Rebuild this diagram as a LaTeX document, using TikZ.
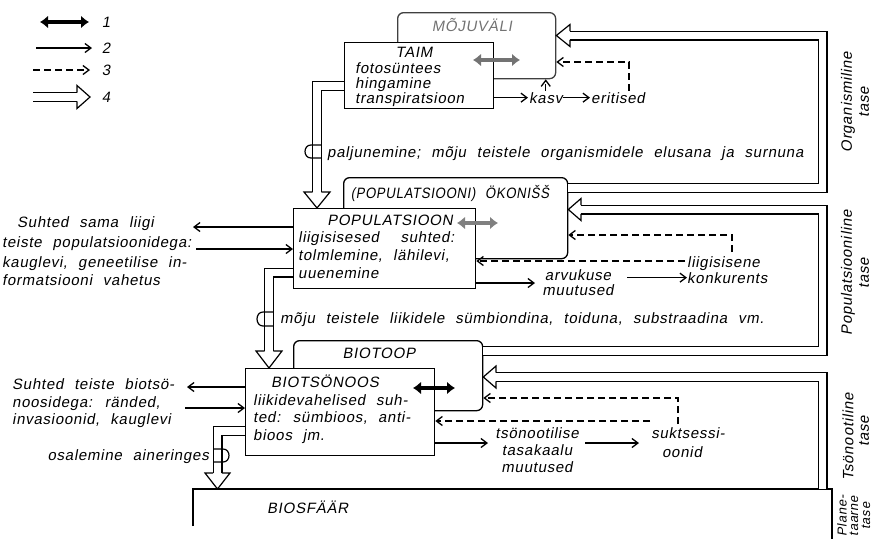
\documentclass[tikz,border=0pt]{standalone}
\usepackage{fontspec}
\setmainfont{Liberation Sans}[FakeSlant=0.18, WordSpace=2.2, LetterSpace=5]
\usetikzlibrary{arrows.meta,calc}
\newcommand\lab{\fontsize{15}{18}\selectfont}
\newcommand\sml{\fontsize{13}{15}\selectfont}
\begin{document}
\begin{tikzpicture}[x=1pt,y=-1pt,
  txt/.style={inner sep=0pt, font=\lab},
  box/.style={draw, line width=1.3pt, fill=white, inner sep=0pt, anchor=north west},
  env/.style={draw, line width=1.3pt, rounded corners=6pt, inner sep=0pt, anchor=north west},
  arr/.style={line width=1.3pt, -{Straight Barb[length=6pt,width=9pt]}},
  dsh/.style={arr, dash pattern=on 7pt off 4pt},
  fat/.style={line width=4.5pt, {Latex[length=8pt,width=13pt]}-{Latex[length=8pt,width=13pt]}},
  dbl/.style={line width=1.2pt, double, double distance=7.6pt},
  dhead/.style={line width=1.2pt, line join=miter},
  jumper/.style={line width=1.2pt},
]
\useasboundingbox (0,0) rectangle (886,539);

% ---------- legend ----------
\coordinate (l1a) at (40,22);  \coordinate (l1b) at (89,22);
\coordinate (l2a) at (36,48);  \coordinate (l2b) at (92,48);
\coordinate (l3a) at (33,70);  \coordinate (l3b) at (90,70);
\coordinate (l4a) at (33,97);  \coordinate (l4b) at (77,97);
\draw[fat] (l1a) -- (l1b);
\draw[arr] (l2a) -- (l2b);
\draw[dsh] (l3a) -- (l3b);
\draw[dbl] (l4a) -- (l4b);
\draw[dhead] (77,92.6) -- (77,85.5) -- (90,97) -- (77,108.5) -- (77,101.4);
\node[txt] (n1) at (106,22) {1};
\node[txt] (n2) at (106,48) {2};
\node[txt] (n3) at (106,70) {3};
\node[txt] (n4) at (106,97) {4};

% ---------- organism level ----------
\node[env, draw=black!75, minimum width=158pt, minimum height=66pt] (moju) at (397,12) {};
\node[txt, text=black!55, anchor=base] (mojut) at (472,31.5) {MÕJUVÄLI};
\node[box, minimum width=149pt, minimum height=66pt] (taim) at (344,42) {};
\node[txt, anchor=base] (taimt) at (414,57.5) {TAIM};
\node[txt, anchor=base west] (ta1) at (355,73) {fotosüntees};
\node[txt, anchor=base west] (ta2) at (355,88) {hingamine};
\node[txt, anchor=base west] (ta3) at (355,103) {transpiratsioon};
\draw[fat, black!55] (473,60) -- (520,60);

\node[txt, anchor=base west, inner sep=1pt] (kasv) at (528,103) {kasv};
\node[txt, anchor=base west, inner sep=1pt] (erit) at (590,103) {eritised};
\draw[arr] (taim.east |- kasv.west) -- (kasv.west);
\draw[arr] (kasv.east) -- (erit.west);
\draw[dsh] (kasv.north) -- (kasv.north |- moju.south);
\coordinate (c1) at (629,62);
\draw[dsh] (erit.north -| c1) -- (c1) -- (c1 -| moju.east);

\node[txt, anchor=base west] (palj) at (327,157) {paljunemine; mõju teistele organismidele elusana ja surnuna};
\node[txt, rotate=90] (org1) at (848,102) {Organismiline};
\node[txt, rotate=90] (org2) at (864,102) {tase};

% ---------- population level ----------
\node[env, minimum width=224pt, minimum height=81pt] (okon) at (343,177) {};
\node[txt, anchor=base] (okont) at (450,198.5) {\scalebox{0.88}[1]{(POPULATSIOONI) ÖKONIŠŠ}};
\node[box, minimum width=182pt, minimum height=80pt] (pop) at (293,208) {};
\node[txt, anchor=base] (popt) at (390,225.5) {POPULATSIOON};
\node[txt, anchor=base west] (po1) at (298,242) {liigisisesed \ suhted:};
\node[txt, anchor=base west] (po2) at (298,260) {tolmlemine, lähilevi,};
\node[txt, anchor=base west] (po3) at (298,278) {uuenemine};
\draw[fat, black!50] (457,223) -- (498,223);

\node[txt, anchor=base] (arv1) at (578,280) {arvukuse};
\node[txt, anchor=base] (arv2) at (578,295) {muutused};
\node[txt, anchor=base west] (lii1) at (687,267) {liigisisene};
\node[txt, anchor=base west] (lii2) at (687,283) {konkurents};
\coordinate (c2) at (535,283);
\draw[arr] (pop.east |- c2) -- (c2);
\coordinate (c2a) at (627,281);
\draw[arr] (lii2.west -| c2a) -- (lii2.west);
\coordinate (c2b) at (685,261);
\draw[dsh] (c2b) -- (c2b -| pop.east);
\coordinate (c3) at (732,235);
\draw[dsh] (732,252) -- (c3) -- (c3 -| okon.east);

\node[txt, anchor=base west] (moj2) at (280,323) {mõju teistele liikidele sümbiondina, toiduna, substraadina vm.};
\node[txt, anchor=base west] (ls1) at (17,227) {Suhted sama liigi};
\node[txt, anchor=base west] (ls2) at (2,247) {teiste populatsioonidega:};
\node[txt, anchor=base west] (ls3) at (2,267) {kauglevi, geneetilise in-};
\node[txt, anchor=base west] (ls4) at (2,285) {formatsiooni vahetus};
\coordinate (c4) at (193,227);
\coordinate (c5) at (196,249);
\draw[arr] (pop.west |- c4) -- (c4);
\draw[arr] (c5) -- (c5 -| pop.west);

\node[txt, rotate=90] (pl1) at (848,273) {Populatsiooniline};
\node[txt, rotate=90] (pl2) at (864,273) {tase};

% ---------- biocenotic level ----------
\node[env, minimum width=189pt, minimum height=70pt] (biot) at (293,340) {};
\node[txt, anchor=base] (biott) at (379,358.5) {BIOTOOP};
\node[box, minimum width=189pt, minimum height=87pt] (bio) at (245,368) {};
\node[txt, anchor=base] (biot2) at (325,387.5) {BIOTSÖNOOS};
\node[txt, anchor=base west] (bi1) at (253,405) {liikidevahelised suh-};
\node[txt, anchor=base west] (bi2) at (253,422) {ted: sümbioos, anti-};
\node[txt, anchor=base west] (bi3) at (253,440) {bioos jm.};
\draw[fat] (413,388) -- (455,388);

\node[txt, anchor=base] (ts1) at (537,438) {tsönootilise};
\node[txt, anchor=base] (ts2) at (537,455) {tasakaalu};
\node[txt, anchor=base] (ts3) at (537,472) {muutused};
\node[txt, anchor=base] (su1) at (688,438) {suktsessi-};
\node[txt, anchor=base] (su2) at (682,457) {oonid};
\coordinate (c6) at (488,443);
\coordinate (c7) at (585,443);
\coordinate (c8) at (639,443);
\draw[arr] (bio.east |- c6) -- (c6);
\draw[arr] (c7) -- (c8);
\coordinate (c9) at (678,398);
\draw[dsh] (678,424) -- (c9) -- (c9 -| biot.east);
\coordinate (c10) at (650,421);
\draw[dsh] (c10) -- (c10 -| bio.east);

\node[txt, anchor=base west] (lb1) at (12,389) {Suhted teiste biotsö-};
\node[txt, anchor=base west] (lb2) at (12,407) {noosidega: ränded,};
\node[txt, anchor=base west] (lb3) at (12,424) {invasioonid, kauglevi};
\node[txt, anchor=base east] (osa) at (209,460) {osalemine aineringes};
\coordinate (c11) at (187,387);
\coordinate (c12) at (185,408);
\draw[arr] (bio.west |- c11) -- (c11);
\draw[arr] (c12) -- (c12 -| bio.west);

\node[txt, rotate=90] (tl1) at (848,437) {Tsönootiline};
\node[txt, rotate=90] (tl2) at (864,431) {tase};

% ---------- biosphere ----------
\draw[line width=1.3pt] (193,526) -- (193,489) -- (832,489) -- (832,539);
\node[txt, anchor=base west] (bsf) at (267,513) {BIOSFÄÄR};
\node[inner sep=0pt, font=\sml, rotate=90] (pt1) at (842,516) {Plane-};
\node[inner sep=0pt, font=\sml, rotate=90] (pt2) at (854,516) {taarne};
\node[inner sep=0pt, font=\sml, rotate=90] (pt3) at (866,516) {tase};

% ---------- level frames (double lines) ----------
\coordinate (f1) at (822.5,188);
\coordinate (f2) at (822.5,351);
\coordinate (h1) at (570,35.5);
\coordinate (h2) at (581,209.5);
\coordinate (h3) at (496,377);
\draw[dbl] (h1) -- (822.5,35.5) -- (f1) -- (f1 -| okon.east);
\draw[dhead] (570,31.1) -- (570,24.5) -- (h1 -| moju.east) -- (570,46.5) -- (570,39.9);
\draw[dbl] (h2) -- (822.5,209.5) -- (f2) -- (f2 -| biot.east);
\draw[dhead] (581,205.1) -- (581,198.5) -- (h2 -| okon.east) -- (581,220.5) -- (581,213.9);
\draw[dbl] (h3) -- (822.5,377) -- (822.5,489);
\draw[dhead] (496,372.6) -- (496,366) -- (h3 -| biot.east) -- (496,388) -- (496,381.4);

% ---------- vertical double arrows ----------
\coordinate (v1) at (317,86);
\coordinate (v2) at (269,272.5);
\coordinate (v3) at (217.5,431);
\draw[dbl] (v1 -| taim.west) -- (v1) -- (317,192);
\draw[dhead] (312.6,192) -- (304,192) -- (v1 |- pop.north) -- (330,192) -- (321.4,192);
\draw[jumper] (321.4,145) -- (311,145) .. controls (303,145) and (303,158) .. (311,158) -- (321.4,158);

\draw[dbl] (v2 -| pop.west) -- (v2) -- (269,351);
\draw[dhead] (264.6,351) -- (256,351) -- (v2 |- bio.north) -- (282,351) -- (273.4,351);
\draw[jumper] (273.4,312) -- (263,312) .. controls (255,312) and (255,326) .. (263,326) -- (273.4,326);

\draw[dbl] (v3 -| bio.west) -- (v3) -- (217.5,473);
\draw[dhead] (213.1,473) -- (205,473) -- (217.5,489) -- (230,473) -- (221.9,473);
\draw[jumper] (213.1,449) -- (223,449) .. controls (231,449) and (231,462) .. (223,462) -- (213.1,462);
\end{tikzpicture}
\end{document}
